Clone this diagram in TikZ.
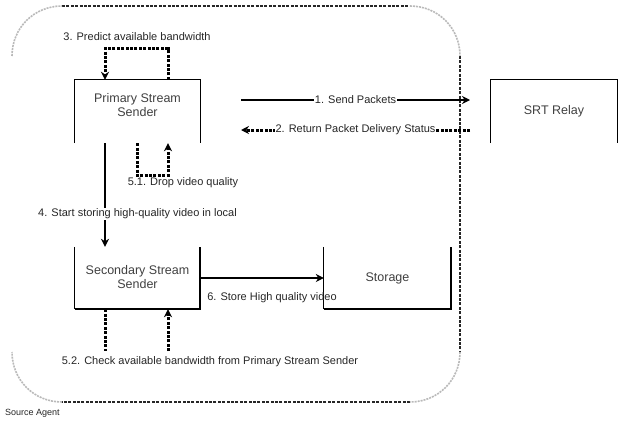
\documentclass[tikz,border=0pt]{standalone}
\usepackage{fontspec}
\setmainfont{Liberation Sans}
\usetikzlibrary{arrows.meta}
\begin{document}
\begin{tikzpicture}[x=1pt,y=-1pt,
  boxstyle/.style={rectangle, minimum width=125pt, minimum height=63pt, inner sep=0pt, draw=none},
  boxtext/.style={align=center, font=\fontsize{12.5}{14.5}\selectfont, text=black!75},
  lbl/.style={font=\fontsize{11}{13}\selectfont, inner sep=1pt, text=black!85},
  thinedge/.style={line width=1.1pt},
  thickedge/.style={line width=2.4pt},
  solidarrow/.style={line width=2.2pt, -{Stealth[length=8pt,width=8pt]}},
  dasharrow/.style={line width=3pt, dash pattern=on 3pt off 1.4pt, -{Stealth[length=8pt,width=8pt]}},
  dashline/.style={line width=3pt, dash pattern=on 3pt off 1.4pt},
  border/.style={line width=2.4pt, black!85, dash pattern=on 3pt off 1.4pt},
  corner/.style={line width=1.6pt, gray!55, dash pattern=on 2pt off 1pt},
]
\useasboundingbox (0,0) rectangle (620,423);

% outer group boundary
\draw[border] (62,6) -- (410,6);
\draw[border] (460,56) -- (460,352);
\draw[border] (410,402) -- (62,402);
\draw[corner] (12,56) .. controls (12,28) and (34,6) .. (62,6);
\draw[corner] (410,6) .. controls (438,6) and (460,28) .. (460,56);
\draw[corner] (460,352) .. controls (460,380) and (438,402) .. (410,402);
\draw[corner] (62,402) .. controls (34,402) and (12,380) .. (12,352);

% boxes
\node[boxstyle] (pri) at (137.5,111.5) {};
\node[boxstyle, minimum height=62pt] (sec) at (137.5,278) {};
\node[boxstyle, minimum width=127pt, minimum height=62pt] (sto) at (387.5,278) {};
\node[boxstyle, minimum width=126pt] (srt) at (554,111.5) {};

\draw[thinedge] (pri.south west) -- (pri.north west) -- (pri.north east) -- (pri.south east);
\draw[thinedge] (sec.north west) -- (sec.south west);
\draw[thickedge] (sec.south west) -- (sec.south east) -- (sec.north east);
\draw[thinedge] (sto.north west) -- (sto.south west);
\draw[thickedge] (sto.south west) -- (sto.south east) -- (sto.north east);
\draw[thinedge] (srt.south west) -- (srt.north west) -- (srt.north east) -- (srt.south east);

\node[boxtext] (pritext) at (137.5,105) {Primary Stream\\Sender};
\node[boxtext] (sectext) at (137.5,277) {Secondary Stream\\Sender};
\node[boxtext] (stotext) at (387.5,278) {Storage};
\node[boxtext] (srttext) at (554,111) {SRT Relay};

% 3. loop
\draw[dasharrow] ([xshift=30.5pt]pri.north) -- ++(0,-31) -| ([xshift=-32.5pt]pri.north);
\node[lbl] (l3) at (137,37) {3. Predict available bandwidth};

% 5.1 loop
\draw[dasharrow] ([xshift=-0.5pt]pri.south) -- ++(0,32) -| ([xshift=30.5pt]pri.south);
\node[lbl] (l51) at (183,183) {5.1. Drop video quality};

% 4.
\draw[solidarrow] ([xshift=-32.5pt]pri.south) -- ([xshift=-32.5pt]sec.north);
\node[lbl, fill=white] (l4) at (137.5,214) {4. Start storing high-quality video in local};

% 1. and 2.
\coordinate (s1) at (241,100);
\coordinate (e1) at (470,100);
\coordinate (s2) at (241,130);
\coordinate (e2) at (470,130);
\draw[solidarrow] (s1) -- node[lbl, fill=white] (l1) {1. Send Packets} (e1);
\draw[dasharrow] (e2) -- node[lbl, fill=white] (l2) {2. Return Packet Delivery Status} (s2);

% 6.
\draw[solidarrow] (sec.east) -- (sto.west);
\node[lbl] (l6) at (272,298) {6. Store High quality video};

% 5.2
\coordinate (c52a) at ([xshift=-32.5pt, yshift=-42pt]sec.south);
\coordinate (c52b) at ([xshift=30.5pt, yshift=-42pt]sec.south);
\draw[dashline] ([xshift=-32.5pt]sec.south) -- (c52a);
\draw[dasharrow] (c52b) -- ([xshift=30.5pt]sec.south);
\node[lbl] (l52) at (210,362) {5.2. Check available bandwidth from Primary Stream Sender};

\node[lbl, anchor=west, font=\fontsize{9}{11}\selectfont] (src) at (4,413) {Source Agent};
\end{tikzpicture}
\end{document}
